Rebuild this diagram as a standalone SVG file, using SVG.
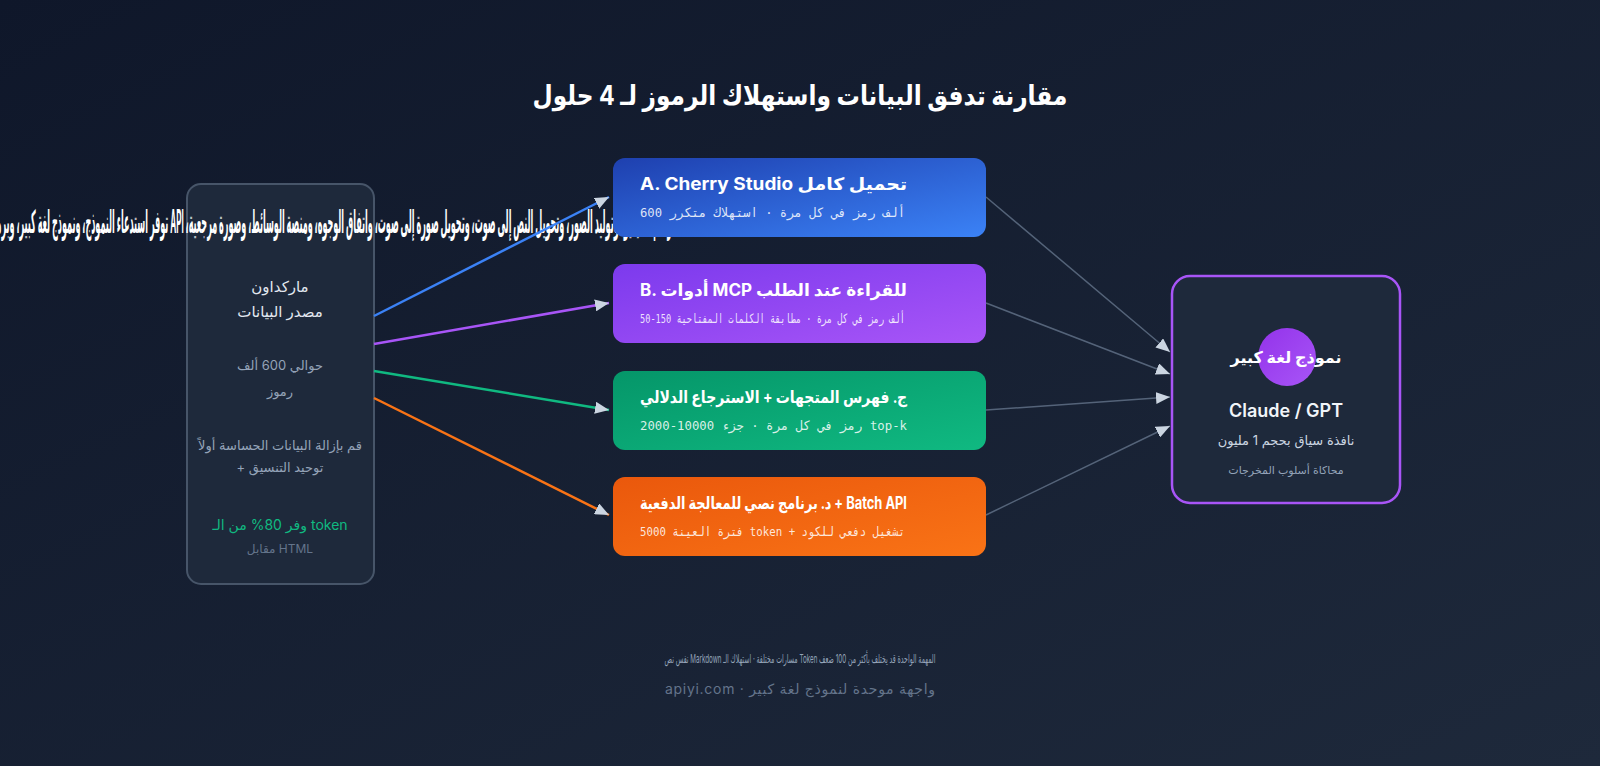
<svg xmlns="http://www.w3.org/2000/svg" width="1600" height="766" viewBox="0 0 1600 766">
<defs>
<linearGradient id="bg" x1="0" y1="0" x2="1" y2="1"><stop offset="0" stop-color="#0f172a"/><stop offset="1" stop-color="#1e293b"/></linearGradient>
<linearGradient id="gA" x1="0" y1="0" x2="1" y2="1"><stop offset="0" stop-color="#1e40af"/><stop offset="1" stop-color="#3b82f6"/></linearGradient>
<linearGradient id="gB" x1="0" y1="0" x2="1" y2="1"><stop offset="0" stop-color="#7c3aed"/><stop offset="1" stop-color="#a855f7"/></linearGradient>
<linearGradient id="gC" x1="0" y1="0" x2="1" y2="1"><stop offset="0" stop-color="#059669"/><stop offset="1" stop-color="#10b981"/></linearGradient>
<linearGradient id="gD" x1="0" y1="0" x2="1" y2="1"><stop offset="0" stop-color="#ea580c"/><stop offset="1" stop-color="#f97316"/></linearGradient>
<linearGradient id="gP" x1="0" y1="0" x2="1" y2="1"><stop offset="0" stop-color="#9333ea"/><stop offset="1" stop-color="#a855f7"/></linearGradient>
<marker id="ah" markerUnits="userSpaceOnUse" markerWidth="14" markerHeight="12" refX="14" refY="6" orient="auto"><path d="M0,0 L14,6 L0,12 Z" fill="#cbd5e1"/></marker>
</defs>
<style>
.sans{font-family:Inter,"Noto Sans","DejaVu Sans",sans-serif}
.title{font-weight:700;font-size:27px;fill:#ffffff}
.bt{font-weight:700;font-size:17px;fill:#ffffff}
.bs{font-family:"DejaVu Sans Mono",monospace;font-size:13px;fill:#ffffff;fill-opacity:.85}
.l1{font-size:15px;fill:#e2e8f0;font-weight:500}
.l2{font-size:13px;fill:#94a3b8}
.conn{fill:none;stroke-width:2.5}
.conn2{fill:none;stroke:#64748b;stroke-width:1.5;stroke-opacity:.8}
</style>
<rect width="1600" height="766" fill="url(#bg)"/>

<text class="sans title" x="800" y="105" text-anchor="middle" direction="rtl" textLength="535" lengthAdjust="spacingAndGlyphs">مقارنة تدفق البيانات واستهلاك الرموز لـ 4 حلول</text>

<g id="source">
<rect x="187" y="184" width="187" height="400" rx="14" fill="#1e293b" stroke="#475569" stroke-width="2"/>
<text class="sans" x="280" y="233" text-anchor="middle" direction="rtl" font-size="32" font-weight="700" fill="#ffffff" textLength="784" lengthAdjust="spacingAndGlyphs">رسم الفيديو، وتوليد الصور، وتحويل النص إلى صوت، وتحويل صورة إلى صوت، واتفاق الوجوه، ومنصة الوسائط، وصورة مرجعية، API توفر استدعاء النموذج، ونموذج لغة كبير، وبرمجة، وتحليل البيانات، والمزيد</text>
<text class="sans l1" x="280" y="292" text-anchor="middle" direction="rtl">ماركداون</text>
<text class="sans l1" x="280" y="317" text-anchor="middle" direction="rtl" font-weight="700">مصدر البيانات</text>
<text class="sans l2" x="280" y="370" text-anchor="middle" direction="rtl">حوالي 600 ألف</text>
<text class="sans l2" x="280" y="396" text-anchor="middle" direction="rtl">رموز</text>
<text class="sans l2" x="280" y="450" text-anchor="middle" direction="rtl">قم بإزالة البيانات الحساسة أولاً</text>
<text class="sans l2" x="280" y="472" text-anchor="middle">+ توحيد التنسيق</text>
<text class="sans" x="280" y="530" text-anchor="middle" font-size="14" fill="#10b981">وفر 80% من الـ token</text>
<text class="sans" x="280" y="553" text-anchor="middle" font-size="12" fill="#64748b">مقابل HTML</text>
</g>

<g id="optA">
<rect x="613" y="158" width="373" height="79" rx="12" fill="url(#gA)"/>
<text class="sans bt" x="640" y="190" textLength="267" lengthAdjust="spacingAndGlyphs">A. Cherry Studio تحميل كامل</text>
<text class="bs" x="640" y="217" textLength="265" lengthAdjust="spacingAndGlyphs">600 ألف رمز في كل مرة · استهلاك متكرر</text>
</g>
<g id="optB">
<rect x="613" y="264" width="373" height="79" rx="12" fill="url(#gB)"/>
<text class="sans bt" x="640" y="296" textLength="267" lengthAdjust="spacingAndGlyphs">B. أدوات MCP للقراءة عند الطلب</text>
<text class="bs" x="640" y="323" textLength="265" lengthAdjust="spacingAndGlyphs">50-150 ألف رمز في كل مرة · مطابقة الكلمات المفتاحية</text>
</g>
<g id="optC">
<rect x="613" y="371" width="373" height="79" rx="12" fill="url(#gC)"/>
<text class="sans bt" x="640" y="403" textLength="267" lengthAdjust="spacingAndGlyphs">ج. فهرس المتجهات + الاسترجاع الدلالي</text>
<text class="bs" x="640" y="430" textLength="267" lengthAdjust="spacingAndGlyphs">2000-10000 رمز في كل مرة · جزء top-k</text>
</g>
<g id="optD">
<rect x="613" y="477" width="373" height="79" rx="12" fill="url(#gD)"/>
<text class="sans bt" x="640" y="509" textLength="267" lengthAdjust="spacingAndGlyphs">د. برنامج نصي للمعالجة الدفعية + Batch API</text>
<text class="bs" x="640" y="536" textLength="265" lengthAdjust="spacingAndGlyphs">5000 فترة العينة token + تشغيل دفعي للكود</text>
</g>

<g id="llm">
<rect x="1172" y="276" width="228" height="227" rx="18" fill="#1e293b" stroke="#a855f7" stroke-width="2.5"/>
<circle cx="1287" cy="357" r="29" fill="url(#gP)"/>
<text class="sans" x="1286" y="363" text-anchor="middle" direction="rtl" font-size="16" font-weight="700" fill="#ffffff">نموذج لغة كبير</text>
<text class="sans" x="1286" y="417" text-anchor="middle" font-size="18" font-weight="600" fill="#f1f5f9">Claude / GPT</text>
<text class="sans" x="1286" y="445" text-anchor="middle" direction="rtl" font-size="13" fill="#cbd5e1">نافذة سياق بحجم 1 مليون</text>
<text class="sans" x="1286" y="474" text-anchor="middle" direction="rtl" font-size="11" fill="#94a3b8">محاكاة أسلوب المخرجات</text>
</g>

<g id="connectors">
<line class="conn" x1="374" y1="316" x2="609" y2="197" stroke="#3b82f6" marker-end="url(#ah)"/>
<line class="conn" x1="374" y1="344" x2="609" y2="303" stroke="#a855f7" marker-end="url(#ah)"/>
<line class="conn" x1="374" y1="371" x2="609" y2="410" stroke="#10b981" marker-end="url(#ah)"/>
<line class="conn" x1="374" y1="398" x2="609" y2="515" stroke="#f97316" marker-end="url(#ah)"/>
<line class="conn2" x1="986" y1="197" x2="1170" y2="352" marker-end="url(#ah)"/>
<line class="conn2" x1="986" y1="303" x2="1170" y2="374" marker-end="url(#ah)"/>
<line class="conn2" x1="986" y1="410" x2="1170" y2="397" marker-end="url(#ah)"/>
<line class="conn2" x1="986" y1="515" x2="1170" y2="426" marker-end="url(#ah)"/>
</g>

<g id="footer">
<text class="sans" x="800" y="663" text-anchor="middle" direction="rtl" font-size="12" fill="#94a3b8" textLength="271" lengthAdjust="spacingAndGlyphs">المهمة الواحدة قد يختلف بأكثر من 100 ضعف Token مسارات مختلفة · استهلاك الـ Markdown نفس نص</text>
<text class="sans" x="800" y="694" text-anchor="middle" font-size="14" fill="#64748b" textLength="270" lengthAdjust="spacing">apiyi.com · واجهة موحدة لنموذج لغة كبير</text>
</g>
</svg>
